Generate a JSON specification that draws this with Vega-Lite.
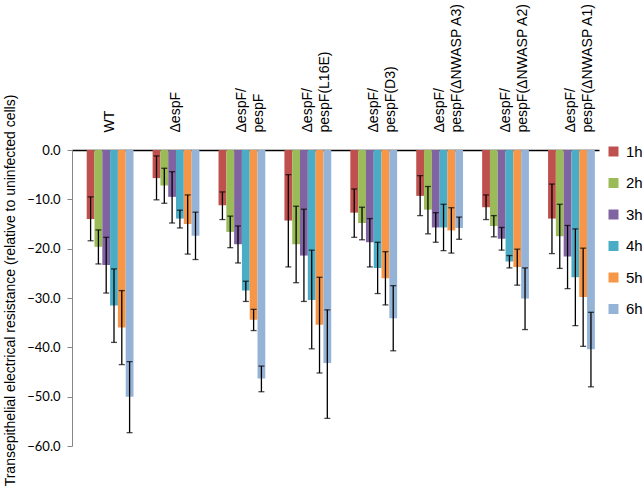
{
  "$schema": "https://vega.github.io/schema/vega-lite/v6.json",
  "width": 527,
  "height": 296,
  "autosize": "none",
  "padding": {"left": 72, "top": 150, "right": 44, "bottom": 41},
  "background": "white",
  "config": {"view": {"stroke": null}, "font": "Liberation Sans"},
  "data": {"values": [
    {"g":"WT","s":"1h","v":-14.0,"lo":-18.4,"hi":-9.5},
    {"g":"WT","s":"2h","v":-19.6,"lo":-23.1,"hi":-16.2},
    {"g":"WT","s":"3h","v":-23.3,"lo":-29.0,"hi":-17.7},
    {"g":"WT","s":"4h","v":-31.5,"lo":-39.0,"hi":-24.1},
    {"g":"WT","s":"5h","v":-36.0,"lo":-43.5,"hi":-28.5},
    {"g":"WT","s":"6h","v":-50.0,"lo":-57.3,"hi":-42.9},
    {"g":"ΔespF","s":"1h","v":-5.7,"lo":-10.1,"hi":-1.2},
    {"g":"ΔespF","s":"2h","v":-7.2,"lo":-10.8,"hi":-3.7},
    {"g":"ΔespF","s":"3h","v":-9.5,"lo":-14.8,"hi":-4.4},
    {"g":"ΔespF","s":"4h","v":-13.9,"lo":-15.8,"hi":-12.2},
    {"g":"ΔespF","s":"5h","v":-15.0,"lo":-21.1,"hi":-9.1},
    {"g":"ΔespF","s":"6h","v":-17.4,"lo":-22.2,"hi":-12.6},
    {"g":"ΔespF/|pespF","s":"1h","v":-11.2,"lo":-14.1,"hi":-8.5},
    {"g":"ΔespF/|pespF","s":"2h","v":-16.6,"lo":-19.8,"hi":-13.4},
    {"g":"ΔespF/|pespF","s":"3h","v":-19.1,"lo":-22.9,"hi":-15.4},
    {"g":"ΔespF/|pespF","s":"4h","v":-28.5,"lo":-30.7,"hi":-26.6},
    {"g":"ΔespF/|pespF","s":"5h","v":-34.4,"lo":-36.6,"hi":-32.3},
    {"g":"ΔespF/|pespF","s":"6h","v":-46.3,"lo":-49.0,"hi":-43.8},
    {"g":"ΔespF/|pespF(L16E)","s":"1h","v":-14.3,"lo":-23.7,"hi":-5.0},
    {"g":"ΔespF/|pespF(L16E)","s":"2h","v":-19.1,"lo":-26.9,"hi":-11.4},
    {"g":"ΔespF/|pespF(L16E)","s":"3h","v":-21.4,"lo":-30.7,"hi":-12.0},
    {"g":"ΔespF/|pespF(L16E)","s":"4h","v":-30.4,"lo":-40.3,"hi":-20.3},
    {"g":"ΔespF/|pespF(L16E)","s":"5h","v":-35.4,"lo":-45.2,"hi":-25.8},
    {"g":"ΔespF/|pespF(L16E)","s":"6h","v":-43.2,"lo":-54.4,"hi":-32.4},
    {"g":"ΔespF/|pespF(D3)","s":"1h","v":-12.7,"lo":-17.7,"hi":-7.9},
    {"g":"ΔespF/|pespF(D3)","s":"2h","v":-14.8,"lo":-18.2,"hi":-11.6},
    {"g":"ΔespF/|pespF(D3)","s":"3h","v":-18.7,"lo":-23.7,"hi":-13.9},
    {"g":"ΔespF/|pespF(D3)","s":"4h","v":-23.9,"lo":-29.1,"hi":-18.7},
    {"g":"ΔespF/|pespF(D3)","s":"5h","v":-26.0,"lo":-31.4,"hi":-20.6},
    {"g":"ΔespF/|pespF(D3)","s":"6h","v":-34.1,"lo":-40.7,"hi":-27.5},
    {"g":"ΔespF/|pespF(ΔNWASP A3)","s":"1h","v":-9.3,"lo":-13.3,"hi":-5.2},
    {"g":"ΔespF/|pespF(ΔNWASP A3)","s":"2h","v":-12.1,"lo":-17.0,"hi":-7.4},
    {"g":"ΔespF/|pespF(ΔNWASP A3)","s":"3h","v":-15.7,"lo":-18.7,"hi":-12.7},
    {"g":"ΔespF/|pespF(ΔNWASP A3)","s":"4h","v":-15.7,"lo":-20.4,"hi":-11.0},
    {"g":"ΔespF/|pespF(ΔNWASP A3)","s":"5h","v":-16.3,"lo":-20.9,"hi":-11.7},
    {"g":"ΔespF/|pespF(ΔNWASP A3)","s":"6h","v":-15.8,"lo":-18.1,"hi":-13.6},
    {"g":"ΔespF/|pespF(ΔNWASP A2)","s":"1h","v":-11.6,"lo":-14.1,"hi":-9.1},
    {"g":"ΔespF/|pespF(ΔNWASP A2)","s":"2h","v":-15.4,"lo":-17.6,"hi":-13.3},
    {"g":"ΔespF/|pespF(ΔNWASP A2)","s":"3h","v":-18.0,"lo":-20.3,"hi":-15.7},
    {"g":"ΔespF/|pespF(ΔNWASP A2)","s":"4h","v":-22.6,"lo":-23.9,"hi":-21.4},
    {"g":"ΔespF/|pespF(ΔNWASP A2)","s":"5h","v":-23.7,"lo":-27.4,"hi":-20.1},
    {"g":"ΔespF/|pespF(ΔNWASP A2)","s":"6h","v":-30.1,"lo":-36.4,"hi":-23.9},
    {"g":"ΔespF/|pespF(ΔNWASP A1)","s":"1h","v":-13.9,"lo":-21.0,"hi":-6.9},
    {"g":"ΔespF/|pespF(ΔNWASP A1)","s":"2h","v":-17.5,"lo":-24.0,"hi":-11.0},
    {"g":"ΔespF/|pespF(ΔNWASP A1)","s":"3h","v":-21.6,"lo":-28.1,"hi":-15.3},
    {"g":"ΔespF/|pespF(ΔNWASP A1)","s":"4h","v":-25.8,"lo":-35.6,"hi":-16.0},
    {"g":"ΔespF/|pespF(ΔNWASP A1)","s":"5h","v":-29.8,"lo":-39.8,"hi":-19.9},
    {"g":"ΔespF/|pespF(ΔNWASP A1)","s":"6h","v":-40.4,"lo":-48.0,"hi":-32.9}
  ]},
  "encoding": {
    "x": {
      "field": "g", "type": "nominal", "sort": null,
      "scale": {"paddingInner": 0.29, "paddingOuter": 0.143, "align": 0.78},
      "axis": {
        "orient": "top", "title": null, "ticks": false,
        "domainColor": "#000000", "domainWidth": 1.5,
        "labelAngle": -90, "labelAlign": "left", "labelBaseline": "middle",
        "labelFont": "Liberation Sans", "labelFontSize": 14, "labelColor": "#000000",
        "labelPadding": 18, "labelLineHeight": 17,
        "labelExpr": "split(datum.label, '|')"
      }
    },
    "xOffset": {"field": "s", "type": "nominal", "scale": {"paddingInner": 0, "paddingOuter": 0}}
  },
  "layer": [
    {
      "mark": {"type": "bar"},
      "encoding": {
        "y": {
          "field": "v", "type": "quantitative",
          "scale": {"domain": [-60, 0], "nice": false, "zero": false},
          "axis": {
            "orient": "left", "values": [0, -10, -20, -30, -40, -50, -60],
            "format": ".1f", "grid": false,
            "domainColor": "#868686", "tickColor": "#868686", "tickSize": 5,
            "labelFont": "Lato", "labelFontSize": 13, "labelColor": "#000000", "labelPadding": 7,
            "title": "Transepithelial electrical resistance (relative to uninfected cells)",
            "titleFont": "Liberation Sans", "titleFontSize": 14, "titleFontWeight": "normal",
            "titleColor": "#000000", "titleAngle": -90, "titleAlign": "center", "titleBaseline": "middle",
            "titleX": -62, "titleY": 140
          }
        },
        "color": {
          "field": "s", "type": "nominal",
          "scale": {"domain": ["1h","2h","3h","4h","5h","6h"], "range": ["#C0504D","#9BBB59","#8064A2","#4BACC6","#F79646","#95B3D7"]},
          "legend": {
            "title": null, "orient": "none", "legendX": 534, "legendY": -6,
            "symbolType": "square", "symbolSize": 100, "symbolStrokeWidth": 0,
            "labelFont": "Liberation Sans", "labelFontSize": 15, "labelColor": "#000000",
            "rowPadding": 15.5, "labelOffset": 5
          }
        }
      }
    },
    {
      "mark": {"type": "rule", "color": "#000000", "strokeWidth": 1.3},
      "encoding": {
        "y": {"field": "lo", "type": "quantitative"},
        "y2": {"field": "hi"}
      }
    },
    {
      "mark": {"type": "tick", "color": "#000000", "size": 6, "thickness": 1.3, "orient": "horizontal"},
      "encoding": {"y": {"field": "lo", "type": "quantitative"}}
    },
    {
      "mark": {"type": "tick", "color": "#000000", "size": 6, "thickness": 1.3, "orient": "horizontal"},
      "encoding": {"y": {"field": "hi", "type": "quantitative"}}
    }
  ]
}
